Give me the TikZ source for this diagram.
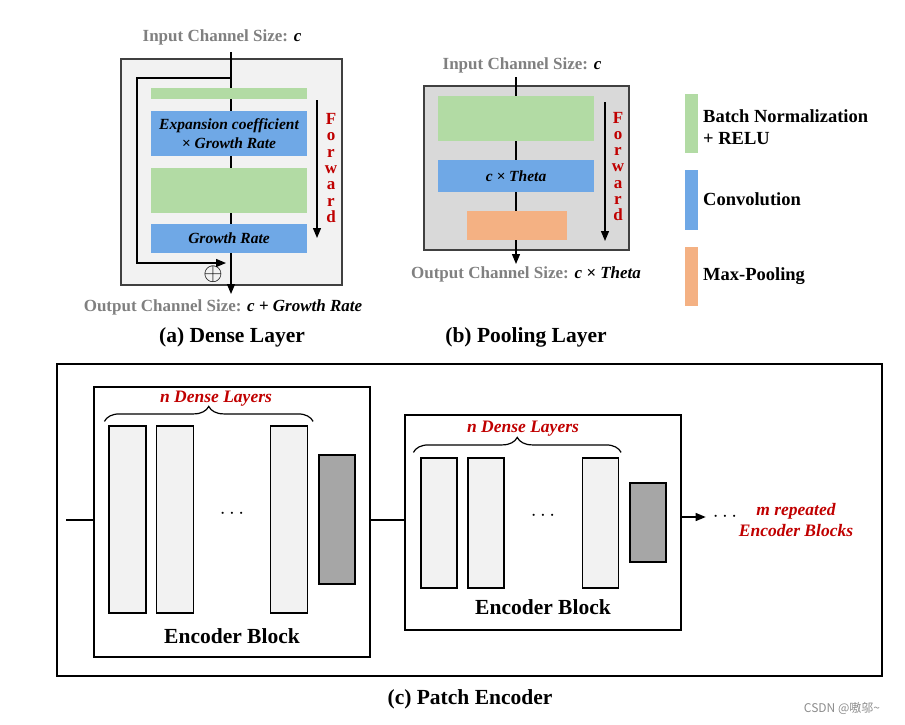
\documentclass[tikz,border=0pt]{standalone}
\usepackage{fontspec}
\setmainfont{Liberation Serif}
\newfontfamily\cjk{Noto Sans CJK SC}
\usepackage{xcolor}
\usepackage{tikz}
\usetikzlibrary{arrows.meta,positioning,decorations.pathreplacing,calc}
\definecolor{bngreen}{RGB}{178,219,164}
\definecolor{convblue}{RGB}{111,168,230}
\definecolor{poolorange}{RGB}{244,177,131}
\definecolor{labelgray}{RGB}{128,128,128}
\definecolor{fwdred}{RGB}{192,0,0}
\definecolor{panelgray}{RGB}{242,242,242}
\definecolor{boxgray}{RGB}{217,217,217}
\definecolor{darkbar}{RGB}{166,166,166}
\tikzstyle{layerbox}=[rectangle,inner sep=0pt,draw=none,align=center,
                  font=\fontsize{15.5}{19}\selectfont\bfseries\itshape]
\tikzstyle{panel}=[rectangle,inner sep=0pt,draw=black!75,line width=1.1pt]
\tikzstyle{frame}=[rectangle,inner sep=0pt,draw=black,line width=1.3pt]
\tikzstyle{bar}=[rectangle,inner sep=0pt,draw=black,line width=1.2pt,fill=panelgray]
\tikzstyle{size}=[inner sep=0pt,font=\fontsize{17}{20}\selectfont\bfseries]
\tikzstyle{caption}=[inner sep=0pt,font=\fontsize{21.5}{26}\selectfont\bfseries]
\tikzstyle{fwd}=[inner sep=0pt,align=center,text=fwdred,font=\fontsize{17}{16.3}\selectfont\bfseries]
\tikzstyle{redlabel}=[inner sep=0pt,align=center,text=fwdred,font=\fontsize{17.5}{21}\selectfont\bfseries\itshape]
\tikzstyle{legend}=[inner sep=0pt,anchor=west,align=left,font=\fontsize{18.5}{22}\selectfont\bfseries]
\tikzstyle{dots}=[inner sep=0pt,font=\fontsize{21}{21}\selectfont]
\tikzstyle{arrow}=[-{Triangle[length=10pt,width=8pt]},line width=1.3pt]
\tikzstyle{line}=[line width=1.3pt]

\begin{document}
\begin{tikzpicture}[x=1pt,y=-1pt]
  \useasboundingbox (0,0) rectangle (905,724);
  % (a) dense layer
  \node[panel,fill=panelgray,minimum width=221pt,minimum height=226pt] (framea) at (231.5,172) {};
  \node[size] (ina) at (222,37) {\textcolor{labelgray}{Input Channel Size:} \textit{c}};
  \node[size] (outa) at (223,307) {\textcolor{labelgray}{Output Channel Size:} \textit{c} + \textit{Growth Rate}};
  \coordinate (topa) at (231,52);
  \coordinate (bota) at (231,294);
  \coordinate (skipa) at (231,78);
  \coordinate (adda) at (226,263);
  \draw[arrow] (topa) -- (bota);
  \draw[arrow] (skipa) -- ++(-94,0) |- (adda);
  \node[layerbox,fill=bngreen,minimum width=156pt,minimum height=11pt] (bna1) at (229,93.5) {};
  \node[layerbox,fill=convblue,minimum width=156pt,minimum height=45pt] (cva1) at (229,133.5) {Expansion coefficient\\× Growth Rate};
  \node[layerbox,fill=bngreen,minimum width=156pt,minimum height=45pt] (bna2) at (229,190.5) {};
  \node[layerbox,fill=convblue,minimum width=156pt,minimum height=29pt] (cva2) at (229,238.5) {Growth Rate};
  \node[inner sep=0pt,font=\fontsize{24}{24}\selectfont] (plusa) at (213,274) {$\oplus$};
  \coordinate (fwa1) at (317,100);
  \coordinate (fwa2) at (317,238);
  \draw[arrow] (fwa1) -- (fwa2);
  \node[fwd] (fwda) at (331,168) {F\\o\\r\\w\\a\\r\\d};
  \node[caption] (capa) at (232,337) {(a) Dense Layer};

  % (b) pooling layer
  \node[panel,fill=boxgray,minimum width=205pt,minimum height=164pt] (frameb) at (526.5,168) {};
  \node[size] (inb) at (522,65) {\textcolor{labelgray}{Input Channel Size:} \textit{c}};
  \node[size] (outb) at (526,274) {\textcolor{labelgray}{Output Channel Size:} \textit{c × Theta}};
  \coordinate (topb) at (516,77);
  \coordinate (botb) at (516,264);
  \draw[arrow] (topb) -- (botb);
  \node[layerbox,fill=bngreen,minimum width=156pt,minimum height=45pt] (bnb) at (516,118.5) {};
  \node[layerbox,fill=convblue,minimum width=156pt,minimum height=32pt] (cvb) at (516,176) {c × Theta};
  \node[layerbox,fill=poolorange,minimum width=100pt,minimum height=29pt] (mpb) at (517,225.5) {};
  \coordinate (fwb1) at (605,102);
  \coordinate (fwb2) at (605,241);
  \draw[arrow] (fwb1) -- (fwb2);
  \node[fwd] (fwdb) at (618,166.5) {F\\o\\r\\w\\a\\r\\d};
  \node[caption] (capb) at (526,337) {(b) Pooling Layer};

  % legend
  \node[layerbox,fill=bngreen,minimum width=13pt,minimum height=59pt] (lgbn) at (691.5,123.5) {};
  \node[layerbox,fill=convblue,minimum width=13pt,minimum height=60pt] (lgcv) at (691.5,200) {};
  \node[layerbox,fill=poolorange,minimum width=13pt,minimum height=59pt] (lgmp) at (691.5,276.5) {};
  \node[legend] (txtbn) at (703,127) {Batch Normalization\\+ RELU};
  \node[legend] (txtcv) at (703,199) {Convolution};
  \node[legend] (txtmp) at (703,276) {Max-Pooling};

  % (c) patch encoder
  \node[frame,minimum width=825pt,minimum height=312pt] (framec) at (469.5,520) {};
  \node[frame,minimum width=276pt,minimum height=270pt] (enc1) at (232,522) {};
  \node[frame,minimum width=276pt,minimum height=215pt] (enc2) at (543,522.5) {};
  \coordinate (inc) at (66,520);
  \draw[line] (inc) -- (inc -| enc1.west);
  \draw[line] (inc -| enc1.east) -- (inc -| enc2.west);
  \node[dots] (dotsc) at (725,517) {$\cdots$};
  \draw[arrow] (enc2.east |- dotsc) -- ([xshift=-7pt]dotsc.west);
  \node[redlabel] (mrep) at (796,520) {m repeated\\Encoder Blocks};
  \foreach \n/\x in {1/127.5,2/175,3/289}
    \node[bar,minimum width=37pt,minimum height=187pt] (l1\n) at (\x,519.5) {};
  \node[bar,fill=darkbar,minimum width=36pt,minimum height=129pt] (t1) at (337,519.5) {};
  \node[dots] (dots1) at (232,514) {$\cdots$};
  \draw[line,line width=1.2pt,decorate,decoration={brace,amplitude=15pt}]
    ([xshift=-4pt,yshift=4pt]l11.north west) -- ([xshift=5pt,yshift=4pt]l13.north east);
  \node[redlabel] (nd1) at (216,399) {n Dense Layers};
  \node[caption] (eb1) at (232,636) {Encoder Block};
  \foreach \n/\x in {1/439,2/486,3/600.5}
    \node[bar,minimum width=36pt,minimum height=130pt] (l2\n) at (\x,523) {};
  \node[bar,fill=darkbar,minimum width=36pt,minimum height=79pt] (t2) at (648,522.5) {};
  \node[dots] (dots2) at (543,516) {$\cdots$};
  \draw[line,line width=1.2pt,decorate,decoration={brace,amplitude=15pt}]
    ([xshift=-7pt,yshift=5pt]l21.north west) -- ([xshift=2pt,yshift=5pt]l23.north east);
  \node[redlabel] (nd2) at (523,429) {n Dense Layers};
  \node[caption] (eb2) at (543,607) {Encoder Block};
  \node[caption] (capc) at (470,699) {(c) Patch Encoder};

  \node[inner sep=0pt,text=black!45,font=\fontsize{12}{14}\cjk] (mark) at (842,708) {CSDN @嗷邬\char`\~};
\end{tikzpicture}
\end{document}
